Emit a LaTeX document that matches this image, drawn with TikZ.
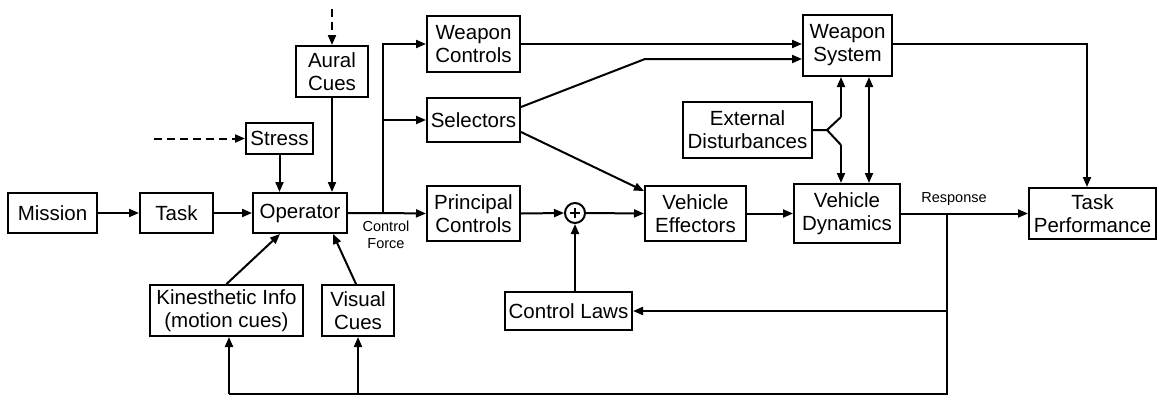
\documentclass[tikz,border=0pt]{standalone}
\usepackage{fontspec}
\setmainfont{Liberation Sans}
\usetikzlibrary{arrows.meta,calc}
\begin{document}
\begin{tikzpicture}[x=1pt,y=-1pt,
  line width=2pt,
  blk/.style={draw,line width=2pt,inner sep=0pt,align=center,
    font=\fontsize{20.5}{23}\selectfont},
  lbl/.style={inner sep=0pt,align=center,font=\fontsize{14.5}{17}\selectfont},
  arr/.style={-{Triangle[length=10pt,width=8pt]}},
  darr/.style={{Triangle[length=10pt,width=8pt]}-{Triangle[length=10pt,width=8pt]}},
  dsh/.style={arr,dash pattern=on 8pt off 5pt}]
\useasboundingbox (0,0) rectangle (1159,399);

% blocks
\node[blk,minimum width=89pt,minimum height=40pt] (mission) at (52.5,213) {Mission};
\node[blk,minimum width=73pt,minimum height=40pt] (task) at (176.5,213) {Task};
\node[blk,minimum width=94pt,minimum height=40pt] (operator) at (300,213) {Operator};
\node[blk,minimum width=67pt,minimum height=31pt] (stress) at (279.5,138.5) {Stress};
\node[blk,minimum width=72pt,minimum height=51pt] (aural) at (332,71.5) {Aural\\Cues};
\node[blk,minimum width=93pt,minimum height=56pt] (wcontrols) at (473.5,44) {Weapon\\Controls};
\node[blk,minimum width=93pt,minimum height=44pt] (selectors) at (473.5,120) {Selectors};
\node[blk,minimum width=93pt,minimum height=55pt] (pcontrols) at (473.5,213.5) {Principal\\Controls};
\node[blk,minimum width=101pt,minimum height=55pt] (effectors) at (695.5,213.5) {Vehicle\\Effectors};
\node[blk,minimum width=129pt,minimum height=56pt] (extdist) at (747.5,130) {External\\Disturbances};
\node[blk,minimum width=89pt,minimum height=61pt] (wsystem) at (847.5,45.5) {Weapon\\System};
\node[blk,minimum width=106pt,minimum height=59pt] (dynamics) at (847,213.5) {Vehicle\\Dynamics};
\node[blk,minimum width=127pt,minimum height=51pt] (taskperf) at (1092.5,213.5) {Task\\Performance};
\node[blk,minimum width=127pt,minimum height=38pt] (ctrllaws) at (568.5,311) {Control Laws};
\node[blk,minimum width=153pt,minimum height=51pt] (kines) at (226.5,310.5) {Kinesthetic Info\\(motion cues)};
\node[blk,minimum width=72pt,minimum height=51pt] (visual) at (358,310.5) {Visual\\Cues};
\node[draw,circle,line width=2pt,minimum size=20pt,inner sep=0pt] (sum) at (575,213) {};
\draw[line width=1.6pt] ($(sum)+(-5,0)$) -- ($(sum)+(5,0)$)
  ($(sum)+(0,-5)$) -- ($(sum)+(0,5)$);

% labels
\node[lbl] (cforce) at (386,235) {Control\\Force};
\node[lbl] (resp) at (954,199) {Response};

% helper points
\coordinate (dA) at (332,9);
\coordinate (dS) at (154,138.5);
\coordinate (br) at (383,213);
\coordinate (kink) at (645,59);
\coordinate (yj) at (827,130);
\coordinate (yu) at (841,117);
\coordinate (yd) at (841,145);
\coordinate (rp) at (947,213);
\coordinate (bot) at (947,394);
\coordinate (bl) at (229,394);

% connectors
\draw[dsh] (dA) -- (aural.north);
\draw[dsh] (dS) -- (stress.west);
\draw[arr] (mission) -- (task);
\draw[arr] (task) -- (operator);
\draw[arr] (stress.south) -- (stress.south |- operator.north);
\draw[arr] (aural.south) -- (aural.south |- operator.north);
\draw[arr] (operator.east) -- (br) -- (pcontrols.west);
\draw[arr] (br) |- (wcontrols.west);
\draw[arr] (br |- selectors.west) -- (selectors.west);
\draw[arr] (pcontrols.east) -- (sum.west);
\draw[arr] (sum.east) -- (effectors.west);
\draw[arr] (sum |- ctrllaws.north) -- (sum.south);
\draw[arr] (effectors.east) -- (dynamics.west);
\draw[arr] (dynamics.east) -- (taskperf.west);
\draw[arr] (wcontrols.east) -- (wcontrols.east -| wsystem.west);
\draw[arr] ($(selectors.east)+(0,-13)$) -- (kink) -- (kink -| wsystem.west);
\draw[arr] ($(selectors.east)+(0,12)$) -- ($(effectors.north west)+(0,6)$);
\draw[arr] ($(wsystem.east)+(0,-1.5)$) -| ($(taskperf.north)+(-5.5,0)$);
\draw (extdist.east) -- (yj) -- (yu);
\draw (yj) -- (yd);
\draw[arr] (yu) -- (yu |- wsystem.south);
\draw[arr] (yd) -- (yd |- dynamics.north);
\draw[darr] (869,0 |- wsystem.south) -- (869,0 |- dynamics.north);
\draw (rp) -- (bot) -- (bl);
\draw[arr] (rp |- ctrllaws.east) -- (ctrllaws.east);
\draw[arr] (bl) -- (bl |- kines.south);
\draw[arr] (visual.south |- bot) -- (visual.south);
\draw[arr] (kines.north) -- ($(operator.south)+(-20,0)$);
\draw[arr] ($(visual.north)+(-2,0)$) -- ($(operator.south)+(33,0)$);
\end{tikzpicture}
\end{document}
